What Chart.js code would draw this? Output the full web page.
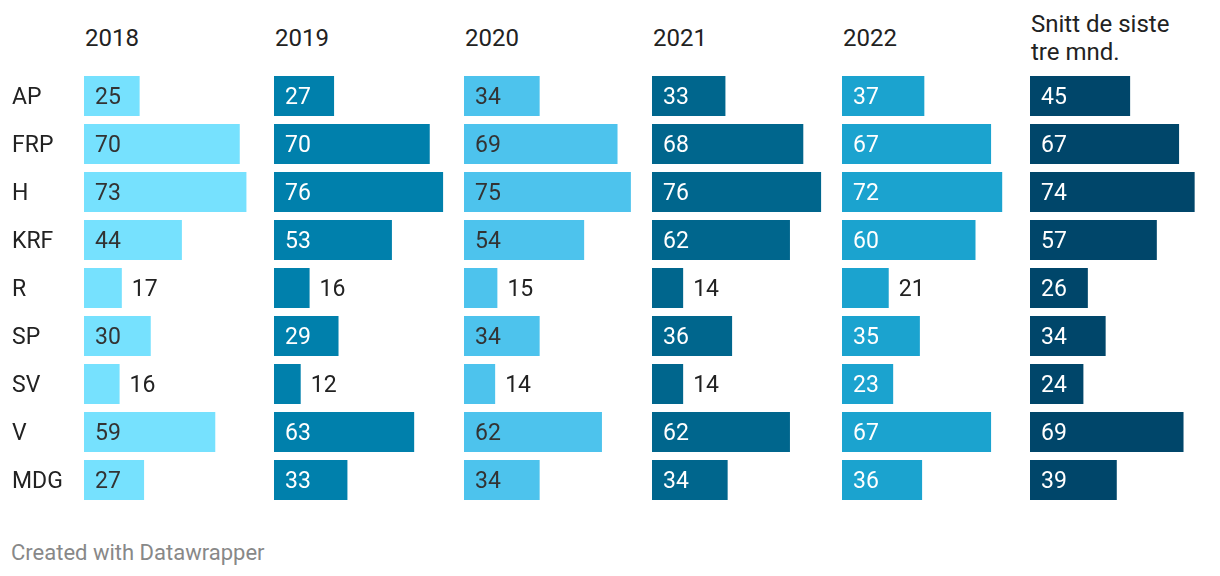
<!DOCTYPE html>
<html>
<head>
<meta charset="utf-8">
<script src="https://cdn.jsdelivr.net/npm/chart.js@4"></script>
<style>
  body { margin: 0; background: #fff; font-family: Roboto, sans-serif; }
  #wrap { position: relative; width: 1220px; height: 576px; }
  .head { position: absolute; font-size: 24px; color: #222; line-height: 28px; }
  canvas { position: absolute; top: 72px; }
  #foot { position: absolute; left: 11px; top: 540px; font-size: 22px; color: #888; }
</style>
</head>
<body>
<div id="wrap"></div>
<script>
const parties = ['AP', 'FRP', 'H', 'KRF', 'R', 'SP', 'SV', 'V', 'MDG'];
const columns = ['2018', '2019', '2020', '2021', '2022', 'Snitt de siste\ntre mnd.'];
const v2018 = [25, 70, 73, 44, 17, 30, 16, 59, 27];
const v2019 = [27, 70, 76, 53, 16, 29, 12, 63, 33];
const v2020 = [34, 69, 75, 54, 15, 34, 14, 62, 34];
const v2021 = [33, 68, 76, 62, 14, 36, 14, 62, 34];
const v2022 = [37, 67, 72, 60, 21, 35, 23, 67, 36];
const vSnitt = [45, 67, 74, 57, 26, 34, 24, 69, 39];

const series = [v2018, v2019, v2020, v2021, v2022, vSnitt];
const colors = ['#76E1FE', '#0080AC', '#4DC3ED', '#00668D', '#1BA3CF', '#00466A'];
const inkInside = ['#333', '#fff', '#333', '#fff', '#fff', '#fff'];
const panelLeft = [84, 274, 464, 652, 842, 1030];

const wrap = document.getElementById('wrap');

// value labels: inside if there is room, otherwise right of the bar
// first panel also writes the party names on the left
const valueLabels = {
  id: 'valueLabels',
  afterDatasetsDraw(chart, args, opts) {
    const ctx = chart.ctx;
    const meta = chart.getDatasetMeta(0);
    const data = chart.data.datasets[0].data;
    ctx.save();
    ctx.font = '23px Roboto';
    ctx.textBaseline = 'middle';
    ctx.textAlign = 'left';
    meta.data.forEach((bar, i) => {
      const v = data[i];
      const inside = v >= 22;
      ctx.fillStyle = inside ? opts.ink : '#222';
      const x = inside ? bar.base + 11 : bar.x + 10;
      ctx.fillText(String(v), x, bar.y + 2);
      if (opts.rowLabels) {
        ctx.fillStyle = '#222';
        ctx.fillText(chart.data.labels[i], 12, bar.y + 2);
      }
    });
    ctx.restore();
  }
};

series.forEach((vals, k) => {
  const first = k === 0;
  const h = document.createElement('div');
  h.className = 'head';
  h.style.left = (panelLeft[k] + 1) + 'px';
  const lines = columns[k].split('\n');
  h.style.top = (lines.length > 1 ? 10 : 24) + 'px';
  h.innerHTML = lines.join('<br>');
  wrap.appendChild(h);

  const c = document.createElement('canvas');
  const w = first ? 84 + 178 : 178;
  c.width = w; c.height = 432;
  c.style.width = w + 'px'; c.style.height = '432px';
  c.style.left = (first ? 0 : panelLeft[k]) + 'px';
  wrap.appendChild(c);

  new Chart(c, {
    type: 'bar',
    data: {
      labels: parties,
      datasets: [{ data: vals, backgroundColor: colors[k], barPercentage: 40 / 48, categoryPercentage: 1 }]
    },
    options: {
      indexAxis: 'y',
      responsive: false,
      animation: false,
      layout: { padding: { left: first ? 84 : 0, right: 0, top: 0, bottom: 0 } },
      plugins: {
        legend: { display: false },
        tooltip: { enabled: false },
        valueLabels: { ink: inkInside[k], rowLabels: first }
      },
      scales: {
        x: { display: false, min: 0, max: 80 },
        y: { display: false }
      }
    },
    plugins: [valueLabels]
  });
});

const f = document.createElement('div');
f.id = 'foot';
f.textContent = 'Created with Datawrapper';
wrap.appendChild(f);
</script>
</body>
</html>
